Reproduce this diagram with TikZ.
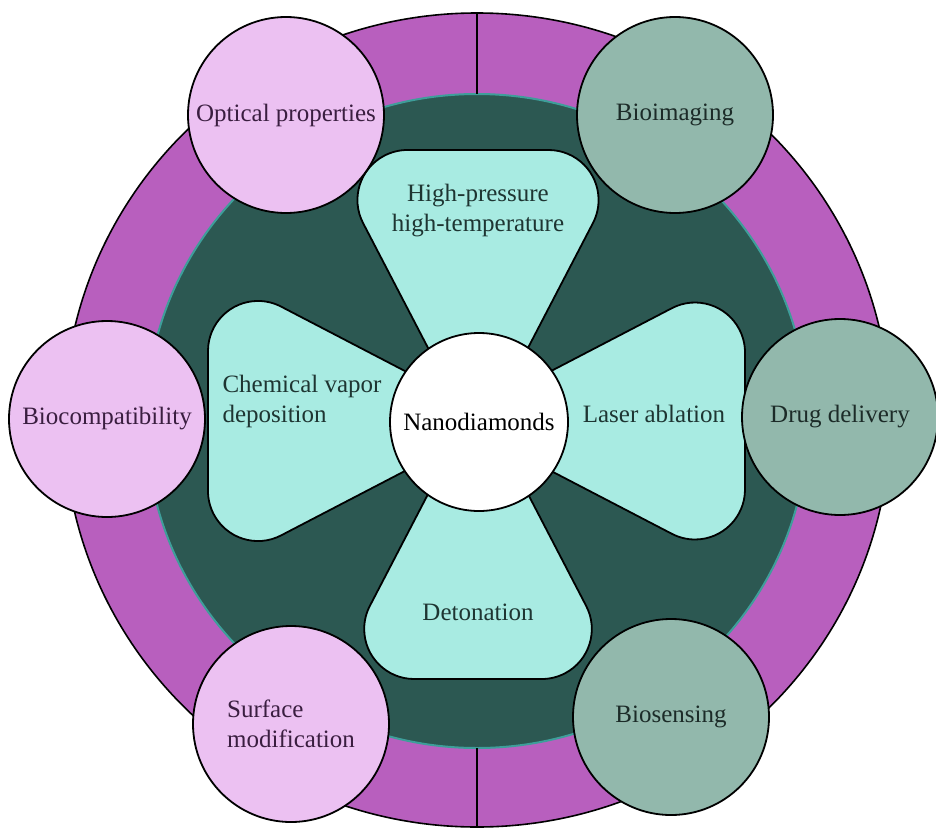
\documentclass[tikz,border=0pt]{standalone}
\usepackage{fontspec}
\setmainfont{Liberation Serif}
\definecolor{ringpurple}{HTML}{B85FBE}
\definecolor{darkteal}{HTML}{2C5852}
\definecolor{tealline}{HTML}{3E9E9A}
\definecolor{petalc}{HTML}{A8EBE2}
\definecolor{pinkc}{HTML}{ECC1F2}
\definecolor{greenc}{HTML}{92B8AC}
\definecolor{pinktext}{HTML}{3A1E40}
\definecolor{greentext}{HTML}{1C2B28}
\definecolor{petaltext}{HTML}{1E3532}
\tikzset{
  ring/.style={fill=ringpurple, draw=black, line width=1.6pt},
  core/.style={fill=darkteal, draw=tealline, line width=2pt},
  divider/.style={draw=black, line width=1.8pt},
  petalshape/.style={fill=petalc, draw=black, line width=1.8pt, line join=round},
  ball/.style={circle, draw=black, line width=1.8pt, minimum size=196pt, inner sep=0pt},
  pinkball/.style={ball, fill=pinkc, text=pinktext},
  greenball/.style={ball, fill=greenc, text=greentext},
  centerball/.style={circle, draw=black, line width=1.8pt, fill=white, minimum size=178pt, inner sep=0pt, text=black},
  petaltxt/.style={text=petaltext, inner sep=0pt},
}
% #1 rotation, #2 length from centre to outer edge
\newcommand\drawpetal[2]{%
  \pgfmathsetmacro\pcx{12+0.52*(#2-50)-1.1271*50}%
  \pgfmathsetmacro\ptx{\pcx+50*0.8873}%
  \pgfmathsetmacro\pty{#2-50-50*0.4613}%
  \begin{scope}[shift={(478,421)}, rotate=#1, y=1pt]
    \draw[petalshape] (-\pcx,#2) -- (\pcx,#2)
      arc[start angle=90, end angle=-27.47, radius=50] -- (0,-23)
      -- (-\ptx,\pty) arc[start angle=207.47, end angle=90, radius=50] -- cycle;
  \end{scope}}
\begin{document}
\begin{tikzpicture}[x=1pt, y=-1pt, every node/.style={font=\fontsize{25}{30}\selectfont}]
  \useasboundingbox (0,0) rectangle (936,827);
  \fill[white] (0,0) rectangle (936,827);
  % rings
  \draw[ring] (477,420) ellipse [x radius=413, y radius=407];
  \draw[core] (477,421) ellipse [x radius=331, y radius=327];
  \coordinate (dtA) at (477,13);
  \coordinate (dtB) at (477,94);
  \coordinate (dbA) at (477,748);
  \coordinate (dbB) at (477,827);
  \draw[divider] (dtA) -- (dtB);
  \draw[divider] (dbA) -- (dbB);
  % petals
  \drawpetal{0}{271}
  \drawpetal{90}{270}
  \drawpetal{180}{258}
  \drawpetal{270}{267}
  % center
  \node[centerball] (nano) at (479,422) {Nanodiamonds};
  % petal labels
  \node[petaltxt, align=center] (hpht) at (478,211) {High-pressure\\high-temperature};
  \node[petaltxt, align=left] (cvd) at (302,401) {Chemical vapor\\deposition};
  \node[petaltxt] (laser) at (654,414) {Laser ablation};
  \node[petaltxt] (deton) at (478,612) {Detonation};
  % outer balls
  \node[pinkball] (optical) at (286,115) {Optical properties};
  \node[greenball] (bioimg) at (675,115) {Bioimaging};
  \node[pinkball] (biocomp) at (107,419) {Biocompatibility};
  \node[greenball] (drug) at (840,417) {Drug delivery};
  \node[pinkball, align=left] (surface) at (291,724) {Surface\\modification};
  \node[greenball] (biosens) at (671,717) {Biosensing};
\end{tikzpicture}
\end{document}
